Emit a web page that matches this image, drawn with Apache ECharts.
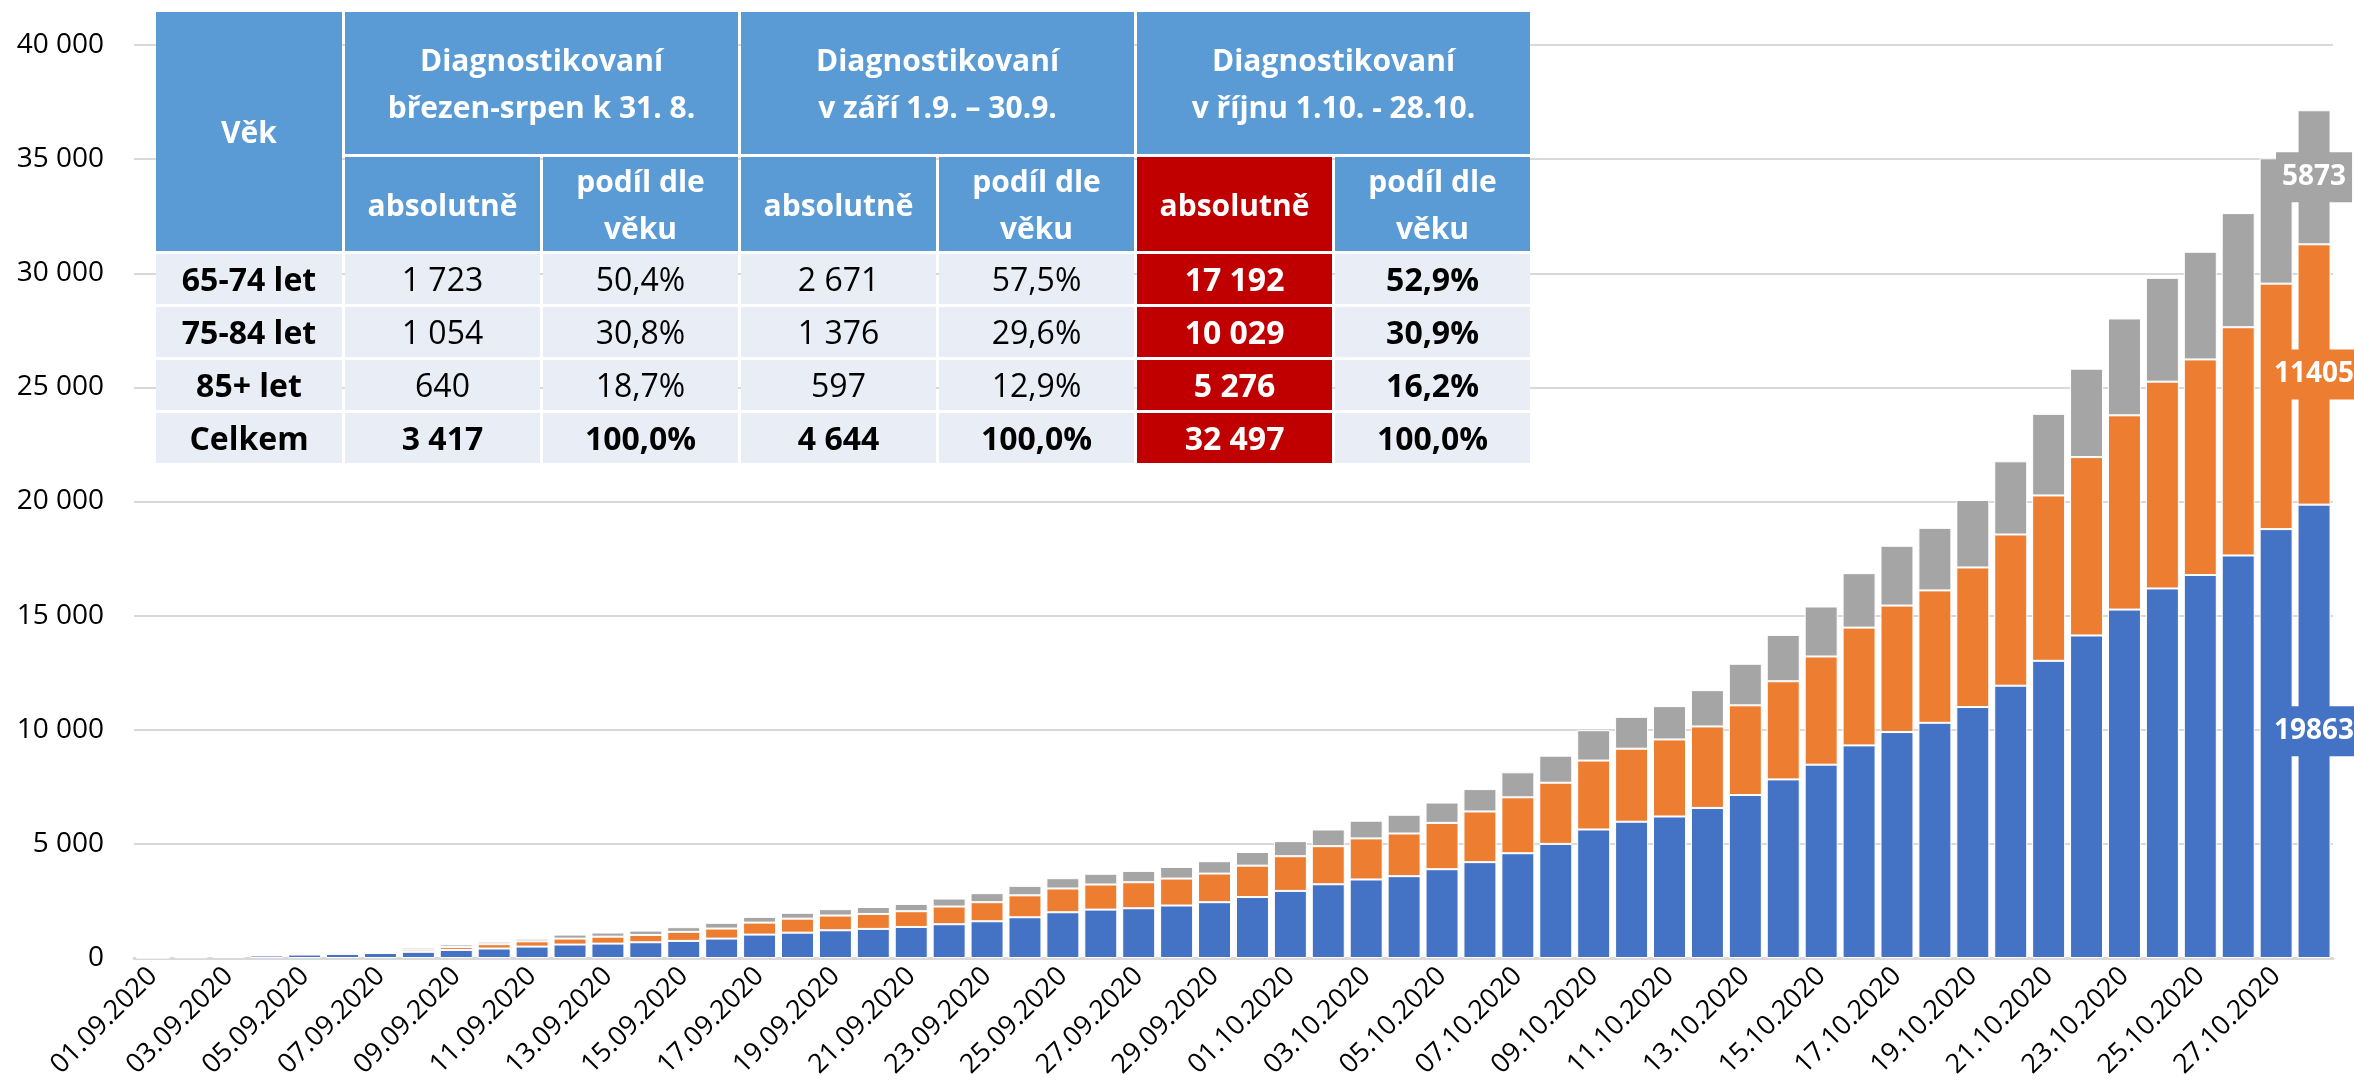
<!DOCTYPE html>
<html lang="cs">
<head>
    <meta charset="UTF-8">
    <title>Diagnostikovaní 65+</title>
    <script src="https://cdn.jsdelivr.net/npm/echarts@6/dist/echarts.min.js"></script>
    <style>
        html, body { margin: 0; padding: 0; background: #fff; }
        #main { position: absolute; left: 0; top: 0; width: 2354px; height: 1086px; }
        #tab {
            position: absolute; left: 153px; top: 9px; width: 1380px;
            border-collapse: separate; border-spacing: 3px; table-layout: fixed;
            font-family: "Open Sans", sans-serif; font-size: 32px; color: #000;
        }
        #tab td { padding: 0; text-align: center; vertical-align: middle; overflow: hidden; white-space: nowrap; }
        #tab .h { background: #5b9bd5; color: #fff; font-weight: bold; font-size: 30px; line-height: 47px; }
        #tab .r td { background: #e9eef6; height: 50px; line-height: 40px; }
        #tab .b { font-weight: bold; }
        #tab .red { background: #c00000 !important; color: #fff; font-weight: bold; }
    </style>
</head>
<body>
<!-- graf -->
<div id="main"></div>

<!-- tabulka nad grafem -->
<table id="tab">
    <colgroup>
        <col style="width:186px"><col style="width:195px"><col style="width:195px"><col style="width:195px">
        <col style="width:195px"><col style="width:195px"><col style="width:195px">
    </colgroup>
    <tr style="height:142px">
        <td class="h" rowspan="2">Věk</td>
        <td class="h" colspan="2">Diagnostikovaní<br>březen-srpen k 31. 8.</td>
        <td class="h" colspan="2">Diagnostikovaní<br>v září 1.9. – 30.9.</td>
        <td class="h" colspan="2">Diagnostikovaní<br>v říjnu 1.10. - 28.10.</td>
    </tr>
    <tr style="height:90px">
        <td class="h">absolutně</td><td class="h">podíl dle<br>věku</td>
        <td class="h">absolutně</td><td class="h">podíl dle<br>věku</td>
        <td class="h red">absolutně</td><td class="h">podíl dle<br>věku</td>
    </tr>
</table>

<script>
    // kategorie (dny)
    var days = ['01.09.2020','02.09.2020','03.09.2020','04.09.2020','05.09.2020','06.09.2020','07.09.2020','08.09.2020','09.09.2020','10.09.2020',
        '11.09.2020','12.09.2020','13.09.2020','14.09.2020','15.09.2020','16.09.2020','17.09.2020','18.09.2020','19.09.2020','20.09.2020',
        '21.09.2020','22.09.2020','23.09.2020','24.09.2020','25.09.2020','26.09.2020','27.09.2020','28.09.2020','29.09.2020','30.09.2020',
        '01.10.2020','02.10.2020','03.10.2020','04.10.2020','05.10.2020','06.10.2020','07.10.2020','08.10.2020','09.10.2020','10.10.2020',
        '11.10.2020','12.10.2020','13.10.2020','14.10.2020','15.10.2020','16.10.2020','17.10.2020','18.10.2020','19.10.2020','20.10.2020',
        '21.10.2020','22.10.2020','23.10.2020','24.10.2020','25.10.2020','26.10.2020','27.10.2020','28.10.2020'];

    // kumulativne 65-74 let
    var age65 = [15,35,60,110,150,180,220,270,355,415,
        500,590,630,690,750,850,1025,1110,1215,1275,
        1360,1480,1610,1785,2005,2120,2180,2300,2445,2671,
        2940,3230,3440,3585,3890,4200,4590,5000,5630,5970,
        6200,6575,7140,7825,8470,9315,9900,10305,10995,11930,
        13020,14130,15265,16190,16780,17635,18790,19863];
    // 75-84 let
    var age75 = [5,12,20,40,55,70,80,95,130,190,
        230,260,305,320,395,440,525,615,645,655,
        690,775,835,960,1040,1100,1140,1180,1255,1376,
        1520,1670,1800,1870,2030,2220,2450,2680,3020,3200,
        3375,3570,3930,4300,4740,5160,5540,5800,6115,6625,
        7245,7815,8510,9060,9445,10000,10755,11405];
    // 85+ let
    var age85 = [2,5,8,25,35,40,65,90,110,110,
        115,175,180,190,205,250,250,255,280,305,
        320,350,395,415,450,470,495,510,540,597,
        660,730,775,820,890,980,1095,1185,1330,1395,
        1460,1590,1820,2030,2190,2385,2620,2740,2955,3205,
        3575,3875,4245,4550,4715,5000,5490,5873];

    // radky tabulky
    var rowNames = ['65-74 let','75-84 let','85+ let','Celkem'];
    var marAbs = ['1 723','1 054','640','3 417'];
    var marPct = ['50,4%','30,8%','18,7%','100,0%'];
    var sepAbs = ['2 671','1 376','597','4 644'];
    var sepPct = ['57,5%','29,6%','12,9%','100,0%'];
    var octAbs = ['17 192','10 029','5 276','32 497'];
    var octPct = ['52,9%','30,9%','16,2%','100,0%'];

    var colors = ['#4472c4','#ed7d31','#a5a5a5'];

    // dopsat radky tabulky
    var html = '';
    for (var i = 0; i < rowNames.length; i++) {
        var tot = (i == 3) ? ' class="b"' : '';
        html += '<tr class="r">'
            + '<td class="b">' + rowNames[i] + '</td>'
            + '<td' + tot + '>' + marAbs[i] + '</td>'
            + '<td' + tot + '>' + marPct[i] + '</td>'
            + '<td' + tot + '>' + sepAbs[i] + '</td>'
            + '<td' + tot + '>' + sepPct[i] + '</td>'
            + '<td class="red">' + octAbs[i] + '</td>'
            + '<td class="b">' + octPct[i] + '</td></tr>';
    }
    document.getElementById('tab').insertAdjacentHTML('beforeend', html);

    // posledni sloupec s popiskem
    function withLabel(arr, color) {
        var out = arr.slice();
        var last = out.length - 1;
        out[last] = {
            value: arr[last],
            label: {
                show: true, position: 'inside', color: '#fff', fontWeight: 'bold',
                fontSize: 28, fontFamily: 'Open Sans', backgroundColor: color,
                padding: [12, 6, 10, 6]
            }
        };
        return out;
    }

    var names = ['65-74 let','75-84 let','85+ let'];
    var vals = [age65, age75, age85];
    var series = [];
    for (var s = 0; s < 3; s++) {
        series.push({
            name: names[s],
            type: 'bar',
            stack: 'vek',
            barCategoryGap: '13%',
            itemStyle: { color: colors[s], borderColor: '#fff', borderWidth: 1 },
            data: withLabel(vals[s], colors[s])
        });
    }

    var myChart = echarts.init(document.getElementById('main'));
    var option = {
        animation: false,
        grid: { left: 134, right: 21, top: 45, bottom: 128, outerBoundsMode: 'none' },
        xAxis: {
            type: 'category',
            data: days,
            axisTick: { show: false },
            axisLine: { lineStyle: { color: '#d9d9d9', width: 3 } },
            axisLabel: {
                interval: 1, rotate: 45, margin: 14, color: '#000',
                fontSize: 27, fontFamily: 'Open Sans'
            }
        },
        yAxis: {
            type: 'value',
            min: 0, max: 40000, interval: 5000,
            axisLine: { show: false },
            axisTick: { show: false },
            splitLine: { lineStyle: { color: '#d9d9d9', width: 2 } },
            axisLabel: {
                margin: 30, color: '#000', fontSize: 28, fontFamily: 'Open Sans',
                formatter: function (v) { return String(v).replace(/\B(?=(\d{3})+(?!\d))/g, ' '); }
            }
        },
        series: series
    };
    myChart.setOption(option);
</script>
</body>
</html>
